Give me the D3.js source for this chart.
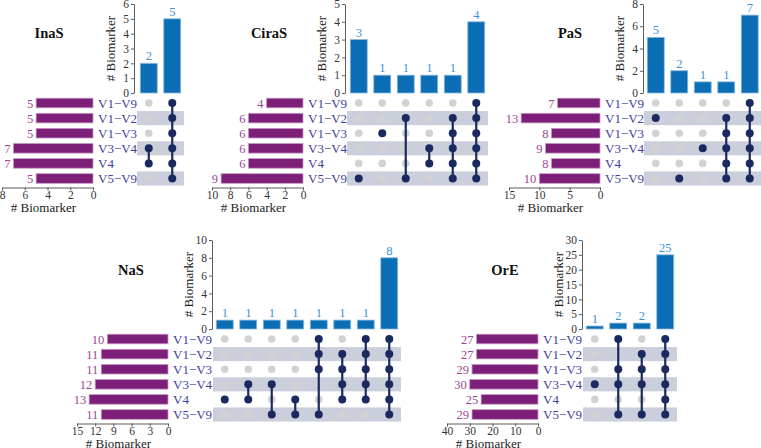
<!DOCTYPE html>
<html><head><meta charset="utf-8">
<script src="https://cdn.jsdelivr.net/npm/d3@7"></script>
<style>
html,body{margin:0;padding:0;background:#fff;}
</style></head>
<body>
<svg id="chart" width="761" height="448"></svg>
<script>
// ---------- DATA ----------
const setNames = ["V1−V9", "V1−V2", "V1−V3", "V3−V4", "V4", "V5−V9"];
const panelTitles = ["InaS", "CiraS", "PaS", "NaS", "OrE"];

const inasSetSizes = [5, 5, 5, 7, 7, 5];
const inasCounts = [2, 5];
const inasMembers = [
  ["V3−V4", "V4"],
  ["V1−V9", "V1−V2", "V1−V3", "V3−V4", "V4", "V5−V9"]
];
const inasYTicks = [0, 1, 2, 3, 4, 5, 6];
const inasSetTicks = [0, 2, 4, 6, 8];

const cirasSetSizes = [4, 6, 6, 6, 6, 9];
const cirasCounts = [3, 1, 1, 1, 1, 4];
const cirasMembers = [
  ["V5−V9"],
  ["V1−V3"],
  ["V1−V2", "V5−V9"],
  ["V3−V4", "V4"],
  ["V1−V2", "V1−V3", "V3−V4", "V4", "V5−V9"],
  ["V1−V9", "V1−V2", "V1−V3", "V3−V4", "V4", "V5−V9"]
];
const cirasYTicks = [0, 1, 2, 3, 4, 5];
const cirasSetTicks = [0, 2, 4, 6, 8, 10];

const pasSetSizes = [7, 13, 8, 9, 8, 10];
const pasCounts = [5, 2, 1, 1, 7];
const pasMembers = [
  ["V1−V2"],
  ["V5−V9"],
  ["V3−V4"],
  ["V1−V2", "V1−V3", "V3−V4", "V4", "V5−V9"],
  ["V1−V9", "V1−V2", "V1−V3", "V3−V4", "V4", "V5−V9"]
];
const pasYTicks = [0, 2, 4, 6, 8];
const pasSetTicks = [0, 5, 10, 15];

const nasSetSizes = [10, 11, 11, 12, 13, 11];
const nasCounts = [1, 1, 1, 1, 1, 1, 1, 8];
const nasMembers = [
  ["V4"],
  ["V3−V4", "V4"],
  ["V3−V4", "V5−V9"],
  ["V4", "V5−V9"],
  ["V1−V9", "V1−V2", "V1−V3", "V5−V9"],
  ["V1−V2", "V1−V3", "V3−V4", "V4"],
  ["V1−V9", "V1−V2", "V1−V3", "V3−V4", "V4"],
  ["V1−V9", "V1−V2", "V1−V3", "V3−V4", "V4", "V5−V9"]
];
const nasYTicks = [0, 2, 4, 6, 8, 10];
const nasSetTicks = [0, 3, 6, 9, 12, 15];

const oreSetSizes = [27, 27, 29, 30, 25, 29];
const oreCounts = [1, 2, 2, 25];
const oreMembers = [
  ["V3−V4"],
  ["V1−V9", "V1−V3", "V3−V4", "V5−V9"],
  ["V1−V2", "V1−V3", "V3−V4", "V5−V9"],
  ["V1−V9", "V1−V2", "V1−V3", "V3−V4", "V4", "V5−V9"]
];
const oreYTicks = [0, 5, 10, 15, 20, 25, 30];
const oreSetTicks = [0, 10, 20, 30, 40];

// ---------- LAYOUT ----------
const panels = [
  {title: panelTitles[0], sizes: inasSetSizes, counts: inasCounts, members: inasMembers, yTicks: inasYTicks, setTicks: inasSetTicks,
   titleX: 49, titleY: 38, setZeroX: 93, barAxisX: 134, colX0: 137, topY: 4, zeroY: 93, rowY0: 103},
  {title: panelTitles[1], sizes: cirasSetSizes, counts: cirasCounts, members: cirasMembers, yTicks: cirasYTicks, setTicks: cirasSetTicks,
   titleX: 269, titleY: 38, setZeroX: 303, barAxisX: 345, colX0: 347, topY: 4, zeroY: 93, rowY0: 103},
  {title: panelTitles[2], sizes: pasSetSizes, counts: pasCounts, members: pasMembers, yTicks: pasYTicks, setTicks: pasSetTicks,
   titleX: 570, titleY: 38, setZeroX: 600, barAxisX: 643, colX0: 644, topY: 4, zeroY: 93, rowY0: 103},
  {title: panelTitles[3], sizes: nasSetSizes, counts: nasCounts, members: nasMembers, yTicks: nasYTicks, setTicks: nasSetTicks,
   titleX: 131, titleY: 275, setZeroX: 168, barAxisX: 212, colX0: 213, topY: 240, zeroY: 329, rowY0: 339},
  {title: panelTitles[4], sizes: oreSetSizes, counts: oreCounts, members: oreMembers, yTicks: oreYTicks, setTicks: oreSetTicks,
   titleX: 505, titleY: 275, setZeroX: 538, barAxisX: 582, colX0: 583, topY: 240, zeroY: 329, rowY0: 339}
];

const FONT = "Liberation Serif";
const svg = d3.select("#chart").style("font-family", FONT);
const colStep = 23.5, rowStep = 15.1, setWidth = 91;
const C = {
  bar: "#0b6db3", barStroke: "#8ab8de", barLabel: "#3c93d3",
  set: "#7d1f78", setStroke: "#c39ac0", setLabel: "#9a4796",
  setName: "#3f3fa0", dot: "#1b2a5e", dotOff: "#d2d2d2", band: "#cbcfdb", axis: "#333"
};

panels.forEach(p => {
  const g = svg.append("g").style("font-family", FONT);
  const n = p.counts.length;
  const x = d3.scaleBand().domain(d3.range(n)).range([p.colX0, p.colX0 + n * colStep]).paddingInner(0.28).paddingOuter(0.14);
  const cx = i => x(i) + x.bandwidth() / 2;
  const yMax = p.yTicks[p.yTicks.length - 1];
  const y = d3.scaleLinear().domain([0, yMax]).range([p.zeroY, p.topY]);
  const row = d3.scalePoint().domain(setNames).range([p.rowY0, p.rowY0 + 5 * rowStep]);
  const setMax = p.setTicks[p.setTicks.length - 1];
  const xs = d3.scaleLinear().domain([0, setMax]).range([p.setZeroX, p.setZeroX - setWidth]);

  // title
  g.append("text").attr("x", p.titleX).attr("y", p.titleY).attr("text-anchor", "middle")
    .attr("font-size", 14.5).attr("font-weight", "bold").attr("fill", "#111").text(p.title);

  // bands
  setNames.forEach((s, i) => {
    if (i % 2 === 1) {
      g.append("rect").attr("x", p.colX0).attr("width", n * colStep)
        .attr("y", row(s) - rowStep / 2 + 0.5).attr("height", rowStep - 1).attr("fill", C.band);
    }
  });

  // intersection bars
  g.selectAll(".ib").data(p.counts).join("rect")
    .attr("x", (d, i) => x(i)).attr("width", x.bandwidth())
    .attr("y", d => y(d)).attr("height", d => y(0) - y(d))
    .attr("fill", C.bar).attr("stroke", C.barStroke).attr("stroke-width", 0.8);
  g.selectAll(".ibl").data(p.counts).join("text")
    .attr("x", (d, i) => cx(i)).attr("y", d => y(d) - 3).attr("text-anchor", "middle")
    .attr("font-size", 12.5).attr("fill", C.barLabel).text(d => d);

  // y axis
  const ya = g.append("g").attr("transform", `translate(${p.barAxisX},0)`)
    .call(d3.axisLeft(y).tickValues(p.yTicks).tickFormat(d3.format("d")).tickSize(3).tickSizeOuter(0).tickPadding(2));
  ya.attr("font-family", FONT);
  ya.selectAll("text").attr("font-size", 11.5).attr("fill", C.axis);
  ya.selectAll("line,path").attr("stroke", C.axis).attr("stroke-width", 0.8);
  g.append("text").attr("transform", `translate(${p.barAxisX - 19},${(p.topY + p.zeroY) / 2}) rotate(-90)`)
    .attr("text-anchor", "middle").attr("font-size", 13).attr("fill", "#222").text("# Biomarker");

  // matrix dots
  p.members.forEach((mem, i) => {
    const on = setNames.filter(s => mem.includes(s));
    setNames.forEach(s => {
      if (!mem.includes(s)) {
        g.append("circle").attr("cx", cx(i)).attr("cy", row(s)).attr("r", 3.8).attr("fill", C.dotOff);
      }
    });
    if (on.length > 1) {
      g.append("line").attr("x1", cx(i)).attr("x2", cx(i))
        .attr("y1", row(on[0])).attr("y2", row(on[on.length - 1]))
        .attr("stroke", C.dot).attr("stroke-width", 2.2);
    }
    on.forEach(s => {
      g.append("circle").attr("cx", cx(i)).attr("cy", row(s)).attr("r", 4).attr("fill", C.dot);
    });
  });

  // set size bars
  g.selectAll(".sb").data(p.sizes).join("rect")
    .attr("x", d => xs(d)).attr("width", d => xs(0) - xs(d))
    .attr("y", (d, i) => row(setNames[i]) - 4.8).attr("height", 9.6)
    .attr("fill", C.set).attr("stroke", C.setStroke).attr("stroke-width", 0.8);
  g.selectAll(".sbl").data(p.sizes).join("text")
    .attr("x", d => xs(d) - 3).attr("y", (d, i) => row(setNames[i]) + 4.5).attr("text-anchor", "end")
    .attr("font-size", 12.5).attr("fill", C.setLabel).text(d => d);
  g.selectAll(".sn").data(setNames).join("text")
    .attr("x", p.setZeroX + 5).attr("y", d => row(d) + 4.5)
    .attr("font-size", 13).attr("fill", C.setName).text(d => d);

  // set axis
  const axY = p.rowY0 + 5 * rowStep + 9;
  const xa = g.append("g").attr("transform", `translate(0,${axY})`)
    .call(d3.axisBottom(xs).tickValues(p.setTicks).tickSize(3).tickSizeOuter(0).tickPadding(0));
  xa.attr("font-family", FONT);
  xa.selectAll("text").attr("font-size", 11.5).attr("fill", C.axis);
  xa.selectAll("line,path").attr("stroke", C.axis).attr("stroke-width", 0.8);
  g.append("text").attr("x", p.setZeroX - setWidth / 2 - 4).attr("y", axY + 24)
    .attr("text-anchor", "middle").attr("font-size", 13).attr("fill", "#222").text("# Biomarker");
});
</script>
</body></html>
